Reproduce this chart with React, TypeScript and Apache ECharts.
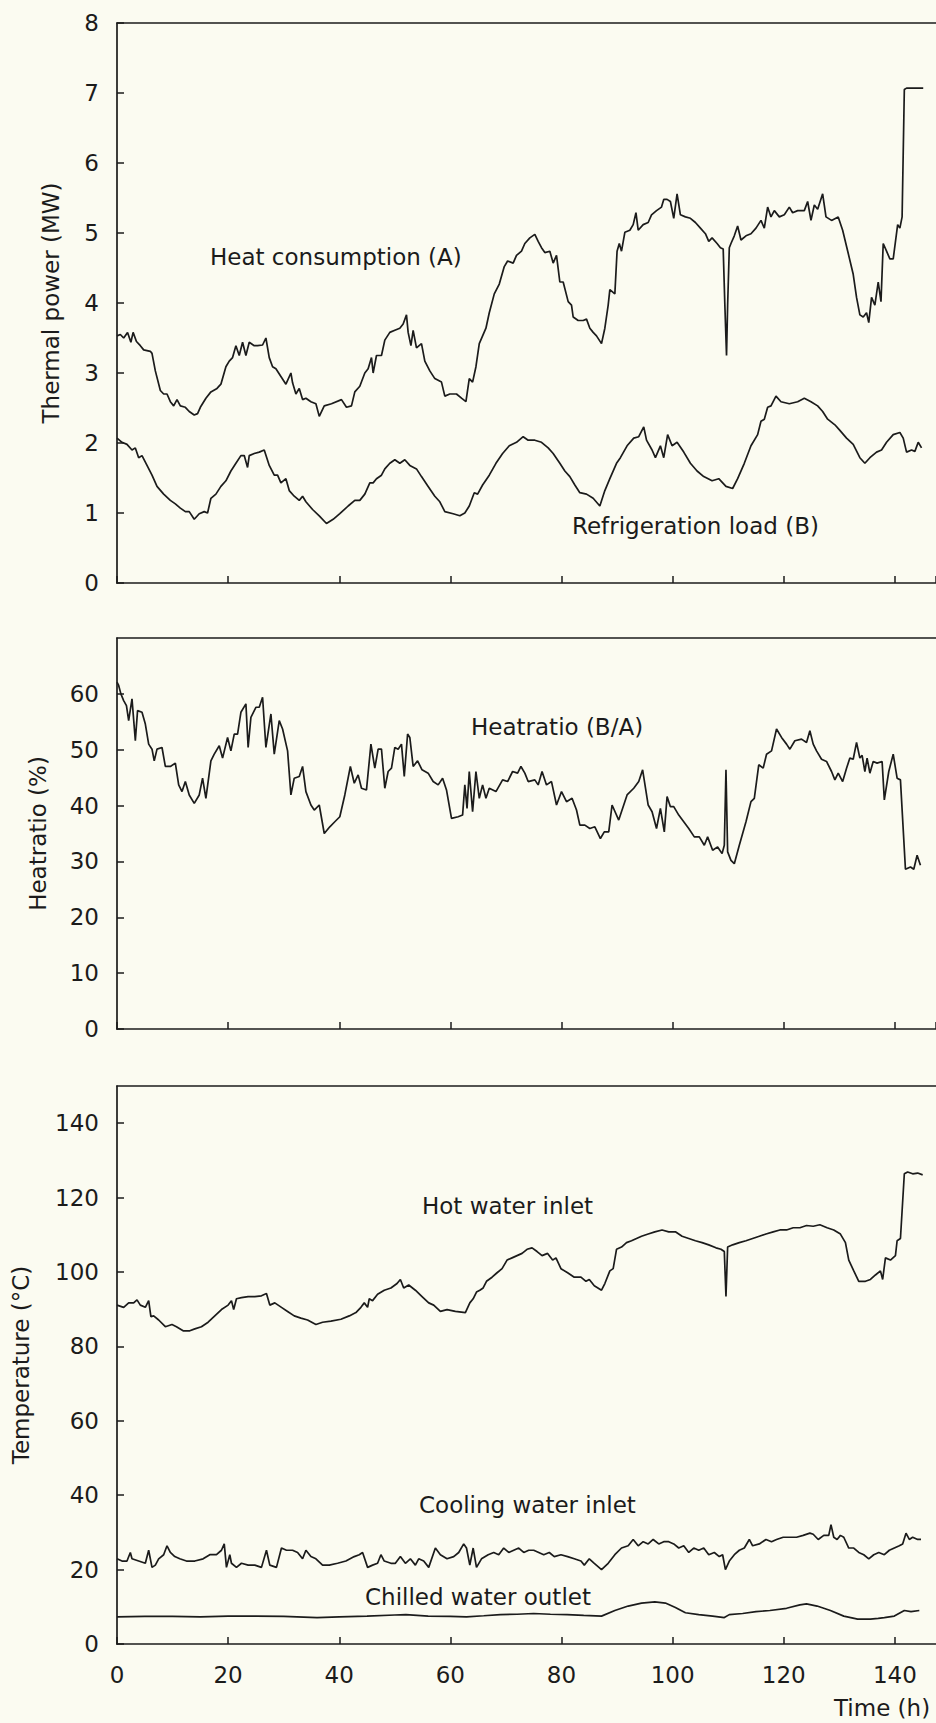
import React, { useEffect, useRef } from 'react';
import * as echarts from 'echarts';

const FONT = "'DejaVu Sans', 'Liberation Sans', sans-serif";
const INK = '#1b1b1b';
const BG = '#fbfbf1';
const FS = 23;

// time axis (hours)
const X_MAX = 147.4;
const X_INTERVAL = 20;

// ---------- Panel 1: thermal power (MW) ----------
const heatConsumptionA: [number, number][] = [
  [0,3.53],[0.6,3.55],[1.2,3.5],[1.9,3.58],[2.5,3.44],[2.9,3.58],[3.5,3.45],[4.2,3.39],[4.8,3.33],[6,3.31],[6.3,3.28],[6.9,3.03],[7.8,2.75],[8.4,2.7],[9,2.7],[9.6,2.59],[10.2,2.53],[10.8,2.62],[11.4,2.53],[12.3,2.51],[13,2.45],[13.9,2.4],[14.5,2.42],[15,2.51],[16,2.64],[16.9,2.73],[18,2.78],[18.7,2.84],[19.6,3.09],[20.2,3.17],[20.8,3.22],[21.4,3.39],[22,3.25],[22.6,3.44],[23.2,3.25],[23.8,3.44],[24.7,3.39],[25.3,3.39],[26.2,3.4],[26.8,3.5],[27.4,3.22],[28,3.09],[28.6,3.06],[29.5,2.95],[30.4,2.84],[31.3,3.0],[31.6,2.86],[32.2,2.7],[32.8,2.78],[33.4,2.62],[34,2.64],[34.9,2.59],[35.8,2.56],[36.4,2.38],[37.3,2.53],[38.6,2.56],[40.4,2.62],[41.3,2.51],[42.2,2.53],[42.8,2.73],[43.7,2.81],[44.6,3.0],[45.2,3.06],[45.8,3.22],[46.1,3.0],[46.7,3.25],[47.6,3.25],[48.2,3.47],[49.1,3.58],[50,3.61],[50.9,3.64],[51.5,3.7],[52.1,3.83],[52.4,3.58],[52.9,3.39],[53.3,3.61],[53.9,3.36],[54.8,3.42],[55.4,3.17],[56.3,3.03],[57.2,2.92],[58.4,2.87],[59,2.67],[59.9,2.7],[61.1,2.7],[62,2.64],[62.8,2.59],[63.4,2.92],[64,2.87],[64.6,3.09],[65.2,3.42],[65.8,3.53],[66.4,3.64],[67,3.86],[67.9,4.13],[68.8,4.27],[69.7,4.52],[70.3,4.6],[71.3,4.57],[71.9,4.68],[72.8,4.74],[73.4,4.85],[74.3,4.93],[75.2,4.98],[75.8,4.88],[76.4,4.79],[77,4.72],[77.9,4.74],[78.5,4.57],[79.1,4.68],[79.7,4.3],[80.3,4.3],[81.2,4.02],[81.8,3.97],[82.1,3.8],[83,3.75],[83.9,3.75],[84.5,3.77],[85.1,3.64],[85.7,3.58],[86.3,3.53],[87.2,3.42],[87.8,3.64],[88.4,3.97],[88.7,4.19],[89.6,4.13],[90,4.74],[90.4,4.85],[90.8,4.74],[91.4,5.01],[92.3,5.04],[92.9,5.12],[93.4,5.29],[93.8,5.04],[94.7,5.12],[95.6,5.15],[96.2,5.26],[97.1,5.32],[98,5.37],[98.4,5.48],[99,5.48],[99.6,5.45],[100.2,5.21],[100.8,5.56],[101.4,5.26],[102.3,5.23],[103.2,5.21],[104.1,5.15],[105,5.07],[105.9,4.99],[106.5,4.88],[107.1,4.93],[108,4.85],[108.6,4.79],[109.1,4.77],[109.4,3.97],[109.7,3.25],[109.9,3.97],[110.2,4.79],[110.5,4.85],[111.1,4.96],[111.7,5.1],[112.3,4.9],[113.2,4.96],[114.1,4.99],[115,5.07],[115.9,5.18],[116.5,5.07],[117.1,5.37],[117.7,5.23],[118.3,5.32],[119.2,5.23],[120.1,5.26],[121,5.37],[121.6,5.29],[122.5,5.32],[123.7,5.32],[124.3,5.45],[124.9,5.18],[125.5,5.4],[126.1,5.34],[127,5.56],[127.6,5.23],[128.6,5.18],[129.8,5.23],[130.6,5.04],[131.6,4.71],[132.5,4.41],[133.1,4.08],[133.7,3.83],[134.3,3.8],[134.9,3.86],[135.3,3.72],[135.8,4.08],[136.4,3.97],[137,4.3],[137.5,4.02],[137.9,4.85],[138.5,4.74],[139.1,4.63],[139.7,4.63],[140.5,5.12],[140.9,5.07],[141.3,5.23],[141.7,7.05],[142.1,7.07],[145.1,7.07]
];

const refrigerationLoadB: [number, number][] = [
  [0,2.07],[0.9,2.01],[1.8,1.98],[2.7,1.9],[3.3,1.93],[3.9,1.79],[4.5,1.82],[5.4,1.68],[6.3,1.54],[7.2,1.38],[8.4,1.27],[9.6,1.18],[10.5,1.13],[11.4,1.07],[12.3,1.02],[13,1.02],[13.9,0.91],[14.8,0.99],[15.7,1.02],[16.3,1.0],[16.9,1.21],[17.8,1.27],[18.7,1.38],[19.6,1.46],[20.5,1.6],[21.4,1.71],[22.3,1.82],[22.9,1.82],[23.5,1.65],[23.8,1.82],[24.7,1.85],[25.6,1.87],[26.5,1.9],[27.4,1.68],[28.3,1.54],[28.9,1.54],[29.5,1.43],[30.4,1.49],[31,1.32],[31.9,1.24],[32.8,1.18],[33.4,1.24],[34,1.16],[35.2,1.05],[36.4,0.96],[37.7,0.85],[38.9,0.91],[40.1,0.99],[41.6,1.1],[42.8,1.18],[43.7,1.18],[44.6,1.27],[45.5,1.43],[46.1,1.43],[46.7,1.49],[47.6,1.54],[48.2,1.63],[49.1,1.71],[50,1.76],[50.9,1.71],[51.8,1.76],[52.7,1.68],[53.9,1.63],[54.8,1.52],[56,1.38],[57.2,1.24],[58.1,1.16],[59,1.02],[60.5,0.99],[61.7,0.96],[62.6,1.0],[63.4,1.1],[64.3,1.29],[64.9,1.27],[65.8,1.4],[67,1.54],[68.2,1.71],[69.4,1.85],[70.6,1.96],[71.9,2.01],[73.1,2.09],[74,2.04],[75.2,2.04],[76.4,2.01],[77.6,1.93],[78.5,1.85],[79.7,1.71],[80.6,1.6],[81.5,1.52],[82.4,1.4],[83.3,1.29],[84.5,1.27],[85.7,1.21],[86.9,1.1],[87.8,1.32],[88.7,1.49],[89.9,1.71],[90.6,1.79],[91.8,1.96],[93,2.07],[93.9,2.09],[94.8,2.23],[95.3,2.04],[96.3,1.9],[96.9,1.79],[97.8,1.96],[98.4,1.79],[99.1,2.12],[99.9,1.96],[100.8,2.01],[102,1.87],[103.2,1.71],[104.4,1.6],[105.6,1.52],[107.1,1.46],[108.3,1.49],[109.6,1.38],[110.8,1.35],[111.7,1.49],[112.9,1.71],[114.1,1.96],[115.3,2.12],[115.9,2.31],[116.5,2.34],[117.1,2.51],[117.7,2.53],[118.6,2.67],[119.5,2.59],[121,2.56],[122.5,2.59],[123.7,2.64],[124.9,2.59],[126.1,2.53],[127,2.45],[127.9,2.34],[129.2,2.26],[130.1,2.18],[131.3,2.07],[132.5,1.98],[133.7,1.79],[134.6,1.71],[135.5,1.79],[136.7,1.87],[137.6,1.9],[138.5,2.01],[139.7,2.12],[140.9,2.15],[141.5,2.07],[142.1,1.87],[143,1.9],[143.6,1.88],[144.2,2.01],[144.8,1.93]
];

// ---------- Panel 2: heat ratio (%) ----------
const heatRatio: [number, number][] = [
  [0,62.1],[0.3,61.5],[0.7,60],[1.2,58.8],[1.7,57.9],[2.1,55.2],[2.7,59.1],[3.3,51.6],[3.7,57],[4.5,56.7],[5.1,54.6],[5.7,51],[6.3,50.1],[6.7,48],[7.2,50.1],[8.1,50.4],[8.7,47],[9.6,47],[10.5,47.6],[11.1,43.7],[11.7,42.5],[12.3,44.3],[13,41.9],[13.9,40.4],[14.8,41.9],[15.4,44.9],[16,41.3],[16.9,48],[17.5,49.2],[18.4,50.7],[19,48.5],[19.9,52.2],[20.5,49.8],[21.1,52.8],[21.7,52.8],[22.3,56.7],[23.2,58.2],[23.6,50.4],[24.1,55.8],[25,57.6],[25.6,57.6],[26.2,59.4],[26.8,50.4],[27.7,56.4],[28.3,49.2],[29.2,55.2],[29.8,53.7],[30.7,49.8],[31.3,41.9],[31.9,44.9],[32.8,45.2],[33.4,47],[34,42.5],[34.9,40.1],[35.5,39.2],[36.4,40.1],[37.3,35],[38.3,36.2],[39.2,37.1],[40.1,38],[41,41.9],[42,47],[42.7,44],[43.4,45.5],[44,43.1],[44.9,42.8],[45.7,51],[46.4,46.7],[47,50.1],[47.6,50.1],[48.2,43.1],[48.8,46.1],[49.4,46.7],[50,50.4],[50.6,50.1],[51.2,51],[51.7,45.2],[52.3,52.8],[52.7,52.2],[53.3,47],[54.1,48],[54.9,46.4],[56,45.8],[56.9,44.3],[57.8,43.7],[58.6,44.9],[59.3,42.8],[60.2,37.7],[61.4,38],[62.2,38.3],[62.6,43.7],[63,39.5],[63.4,46.1],[64,38.9],[64.6,46.1],[65.2,41.3],[65.8,43.7],[66.4,41.3],[67,43.1],[68.2,42.5],[69.4,44.6],[70.3,44.3],[71.2,46.1],[72.1,45.8],[72.7,47],[73.4,45.8],[74,44.3],[75.2,44.6],[75.8,43.7],[76.5,46.1],[77.3,43.7],[78.2,44.3],[79.1,40.1],[80,42.5],[80.9,40.7],[81.9,41.3],[82.7,39.2],[83.3,36.5],[84.2,36.5],[85.1,35.9],[86,36.2],[87,34.1],[87.7,35.3],[88.5,35.3],[89.1,40.1],[90.3,37.4],[91.8,41.9],[93,43.1],[93.9,44.3],[94.6,46.4],[95.6,40.1],[96.3,38.9],[97.1,35.9],[97.8,39.5],[98.5,35.3],[99,41.6],[99.6,39.8],[100.2,39.8],[101.1,38.3],[102,37.1],[102.9,35.9],[103.9,34.4],[104.8,34.4],[105.7,32.9],[106.3,34.4],[107.2,32],[108.1,32.6],[108.9,31.4],[109.3,32.9],[109.6,46.4],[109.9,31.7],[110.5,30.2],[111.1,29.6],[112,32.9],[113.2,37.1],[114.1,40.7],[114.7,41.3],[115.5,47.3],[116.3,46.7],[116.9,49.2],[117.8,49.8],[118.7,53.7],[119.6,52.2],[120.5,51],[121.1,50.1],[122,51.6],[123.2,51.9],[124.1,51.3],[124.7,53.4],[125.3,51],[125.9,49.8],[126.8,48.3],[127.7,47.9],[128.6,46.1],[129.2,44.6],[129.8,45.8],[130.6,44.3],[131.3,46.7],[131.9,48.5],[132.5,48.3],[133.1,51.3],[133.7,48.5],[134.1,49],[134.6,46.1],[135,48.5],[135.5,45.8],[136.1,47.9],[136.8,47.6],[137.7,47.9],[138.1,41],[138.9,46.1],[139.7,49.2],[140.4,44.9],[141,44.6],[141.9,28.6],[142.8,29],[143.4,28.6],[144,31.1],[144.6,29.3]
];

// ---------- Panel 3: temperatures (°C) ----------
const hotWaterInlet: [number, number][] = [
  [0,91.1],[1.2,90.5],[2.1,91.7],[3,91.7],[3.6,92.5],[4.2,91.1],[5.1,90.5],[5.7,92.3],[6.1,88],[6.6,88.2],[7.5,87.1],[8.7,85.3],[9.9,85.9],[10.7,85.3],[11.9,84.2],[13.1,84.2],[14,84.7],[15.2,85.3],[16.4,86.5],[17.6,88.2],[18.8,89.9],[20,91.1],[20.6,92.3],[21,89.9],[21.5,92.8],[22.4,93.1],[23.6,93.4],[24.8,93.4],[26,93.6],[26.9,94.2],[27.5,91.1],[28.4,91.7],[29.6,90.5],[30.7,89.4],[31.9,88.2],[33.1,87.6],[34.3,87.1],[35.8,85.9],[37,86.5],[38.5,86.8],[40.3,87.3],[41.8,88.2],[43,89.1],[43.9,90.5],[44.5,91.7],[45.1,90.5],[45.4,92.8],[46,92.3],[46.9,94],[48.1,95.1],[49.3,95.7],[50.4,96.9],[51,98],[51.6,95.7],[52.5,96.5],[53.7,95.1],[54.9,93.4],[56.1,91.7],[57,91.1],[58.2,89.4],[59.4,89.9],[60.9,89.4],[62.7,89.1],[63.5,91.7],[64.1,92.8],[64.7,94.6],[65.3,95.1],[65.9,95.7],[66.5,97.5],[67.5,98.6],[68.4,99.8],[69.3,100.9],[70.2,103.2],[71.1,103.8],[72,104.4],[72.9,105],[73.8,106.1],[74.7,106.5],[75.6,105.5],[76.5,104.4],[77.5,105],[78.4,103.2],[79,103.8],[79.9,100.9],[81.1,99.8],[82.3,98.6],[83.5,98.6],[84.4,97.5],[85,98],[85.9,96.3],[87.2,95.1],[87.8,96.9],[88.7,100.3],[89.3,100.9],[89.9,106.1],[90.8,106.7],[91.7,107.9],[92.6,108.4],[93.5,109],[94.4,109.6],[95.6,110.2],[96.8,110.8],[98.1,111.3],[99.3,110.8],[100.5,110.8],[101.7,109.6],[102.9,109],[104.1,108.4],[105.3,107.9],[106.5,107.3],[107.8,106.5],[108.7,106.1],[109.3,105.5],[109.6,93.4],[109.9,106.7],[110.8,107.3],[112,107.9],[113.2,108.4],[114.4,109],[115.6,109.6],[116.8,110.2],[118.1,110.8],[119.3,111.3],[120.5,111.3],[121.7,111.9],[122.9,111.9],[124.1,112.5],[125.3,112.3],[126.5,112.7],[127.8,111.9],[129,111.3],[130.2,110.2],[131.1,107.9],[131.7,103.2],[132.6,100.3],[133.5,97.5],[134.7,97.5],[135.6,98],[136.5,99.2],[137.4,100.3],[137.8,98],[138.3,103.8],[139.2,103.2],[140.1,104.4],[140.4,108.4],[141,109],[141.7,126.4],[142.3,126.9],[143.2,126.4],[144.1,126.6],[145,126.1]
];

const coolingWaterInlet: [number, number][] = [
  [0,22.9],[0.9,22.3],[1.8,22.3],[2.4,24.6],[2.7,22.9],[3.9,22.3],[5.1,21.7],[5.7,25.2],[6.3,20.6],[6.9,21.2],[7.5,22.9],[8.4,24],[9,26.4],[9.6,24.6],[10.4,23.5],[11.3,22.9],[12.5,22.3],[14,22.3],[15.5,22.9],[16.7,24],[17.9,24],[18.8,25.2],[19.3,26.9],[19.7,20.6],[20.3,24],[20.6,21.7],[21.5,20.6],[22.4,21.7],[23.6,21.2],[24.8,21.2],[26,20.6],[26.9,25.2],[27.5,21.2],[28.7,20.6],[29.6,25.8],[30.5,25.2],[31.6,25.2],[32.5,24.6],[33.4,22.9],[34,25.2],[34.9,23.5],[35.8,22.9],[37,21.2],[38.2,21.2],[39.7,21.7],[41.2,22.3],[42.7,23.5],[43.6,24],[44.2,24.6],[45.1,20.6],[46,21.2],[46.9,21.7],[47.5,24],[48.1,22.3],[49.3,21.7],[50.1,21.7],[51,23.5],[51.9,21.7],[52.8,22.9],[53.7,21.2],[54.3,22.9],[55.2,22.3],[56.1,20.6],[57.3,25.8],[58.2,24],[59.4,22.9],[60.6,23.5],[61.5,24.6],[62.4,26.9],[62.9,25.8],[63.5,21.2],[64.1,25.8],[64.7,20.6],[65.6,22.9],[66.8,24],[67.8,24.6],[68.7,24],[69.6,25.8],[70.5,24.6],[71.4,25.2],[72.3,25.8],[73.2,24.6],[74.1,25.2],[75,25.2],[75.9,24.6],[76.8,24],[77.8,24.6],[78.7,23.5],[79.9,24],[81.1,23.5],[82.3,22.9],[83.5,22.3],[84.1,21.2],[85,22.9],[85.9,21.7],[87.2,20],[88.4,21.7],[89.6,24],[90.8,25.8],[92,26.4],[92.9,28.1],[93.8,26.4],[94.7,27.5],[95.6,26.9],[96.5,28.1],[97.5,26.9],[98.4,27.5],[99.3,27.5],[100.2,26.9],[101.1,25.8],[102,26.4],[102.9,24.6],[103.8,25.8],[104.7,25.2],[105.6,25.8],[106.5,24],[107.5,24.6],[108.4,23.5],[109,24],[109.5,20],[110.2,22.3],[111.1,24],[112,25.2],[112.9,25.8],[113.8,28.1],[114.4,26.4],[115.6,26.9],[116.8,28.1],[117.8,27.5],[118.7,28.1],[119.9,28.7],[121.1,28.7],[122.3,28.7],[123.5,29.2],[124.7,29.8],[125.3,29.5],[126.2,28.1],[127.2,29.2],[128.1,29.2],[128.5,32.1],[129,28.7],[129.6,28.1],[130.2,29.2],[130.8,28.7],[131.7,25.8],[132.6,25.8],[133.5,24.6],[134.4,24],[135.3,22.9],[136.2,24],[137.1,24.6],[138.1,24],[139,25.2],[139.9,25.8],[140.8,26.4],[141.4,26.9],[142,29.8],[142.6,28.1],[143.2,28.7],[144.1,28.1],[144.7,28.1]
];

const chilledWaterOutlet: [number, number][] = [
  [0,7.3],[5,7.4],[10,7.4],[15,7.3],[20,7.5],[25,7.5],[30,7.4],[36,7.1],[40,7.3],[45,7.5],[50,7.8],[52,7.9],[56,7.5],[60,7.4],[62.9,7.3],[66,7.6],[69,7.9],[72,8.0],[75,8.2],[78,8.0],[81,7.9],[84,7.7],[87.2,7.5],[89.6,9],[92,10.2],[94.4,11],[96.8,11.3],[98.7,11],[100.5,9.8],[102.3,8.4],[104.7,7.9],[107.2,7.5],[109.3,7.1],[110.2,7.9],[112.6,8.2],[115,8.7],[117.5,9],[120.5,9.6],[122.9,10.5],[124.1,10.8],[126,10.2],[128.4,9],[130.8,7.5],[133.3,6.7],[135.6,6.7],[137,6.9],[138.1,7.1],[139.9,7.5],[141.7,9],[142.9,8.7],[144.4,9]
];

// ---------- layout ----------
const PANELS = [
  { top: 23, height: 560, yMax: 8, yInterval: 1, title: 'Thermal power (MW)', nameGap: 55, showMax: true, showX: false },
  { top: 638, height: 391, yMax: 70, yInterval: 10, title: 'Heatratio (%)', nameGap: 68, showMax: false, showX: false },
  { top: 1086, height: 558, yMax: 150, yInterval: 20, title: 'Temperature (°C)', nameGap: 85, showMax: false, showX: true },
];

const SERIES = [
  { panel: 0, data: heatConsumptionA },
  { panel: 0, data: refrigerationLoadB },
  { panel: 1, data: heatRatio },
  { panel: 2, data: hotWaterInlet },
  { panel: 2, data: coolingWaterInlet },
  { panel: 2, data: chilledWaterOutlet },
];

const LABELS = [
  { text: 'Heat consumption (A)', x: 210, y: 257 },
  { text: 'Refrigeration load (B)', x: 572, y: 526 },
  { text: 'Heatratio (B/A)', x: 471, y: 727 },
  { text: 'Hot water inlet', x: 422, y: 1206 },
  { text: 'Cooling water inlet', x: 419, y: 1505 },
  { text: 'Chilled water outlet', x: 365, y: 1597 },
  { text: 'Time (h)', x: 834, y: 1708 },
];

function buildOption() {
  const lineStyle = { color: INK, width: 1.7 };
  const textStyle = { fontSize: FS, fontFamily: FONT, color: INK };
  const grid = PANELS.map((p) => ({ left: 117, right: 0, top: p.top, height: p.height, containLabel: false }));
  const xAxis: any[] = [];
  PANELS.forEach((p, i) => {
    xAxis.push({
      gridIndex: i, type: 'value', min: 0, max: X_MAX, interval: X_INTERVAL, position: 'bottom',
      axisLine: { show: true, onZero: false, lineStyle },
      axisTick: { show: true, inside: true, length: 7, lineStyle: { color: INK, width: 1.5 } },
      axisLabel: { show: p.showX, margin: 19, showMaxLabel: false, ...textStyle },
      splitLine: { show: false },
    });
    xAxis.push({
      gridIndex: i, type: 'value', min: 0, max: X_MAX, position: 'top',
      axisLine: { show: true, onZero: false, lineStyle },
      axisTick: { show: false }, axisLabel: { show: false }, splitLine: { show: false },
    });
  });
  const yAxis = PANELS.map((p, i) => ({
    gridIndex: i, type: 'value', min: 0, max: p.yMax, interval: p.yInterval, position: 'left',
    axisLine: { show: true, onZero: false, lineStyle },
    axisTick: { show: true, inside: true, length: 7, lineStyle: { color: INK, width: 1.5 } },
    axisLabel: { margin: 18, showMaxLabel: p.showMax, ...textStyle },
    splitLine: { show: false },
    name: p.title, nameLocation: 'middle', nameGap: p.nameGap, nameTextStyle: textStyle,
  }));
  const series = SERIES.map((s) => ({
    type: 'line', xAxisIndex: s.panel * 2, yAxisIndex: s.panel, data: s.data,
    showSymbol: false, symbol: 'none', silent: true,
    lineStyle: { color: INK, width: 1.7 },
  }));
  const graphic = LABELS.map((l) => ({
    type: 'text', x: l.x, y: l.y, silent: true,
    style: { text: l.text, fontSize: FS, fontFamily: FONT, fill: INK, textAlign: 'left', textVerticalAlign: 'middle', verticalAlign: 'middle' },
  }));
  return { animation: false, backgroundColor: BG, grid, xAxis, yAxis, series, graphic };
}

export default function App() {
  const ref = useRef<HTMLDivElement>(null);
  useEffect(() => {
    document.body.style.margin = '0';
    const chart = echarts.init(ref.current as HTMLDivElement, null, { renderer: 'svg' });
    chart.setOption(buildOption() as any);
    return () => chart.dispose();
  }, []);
  return (
    <div
      ref={ref}
      style={{ position: 'absolute', left: 0, top: 0, width: 936, height: 1723, background: BG, overflow: 'hidden' }}
    />
  );
}
